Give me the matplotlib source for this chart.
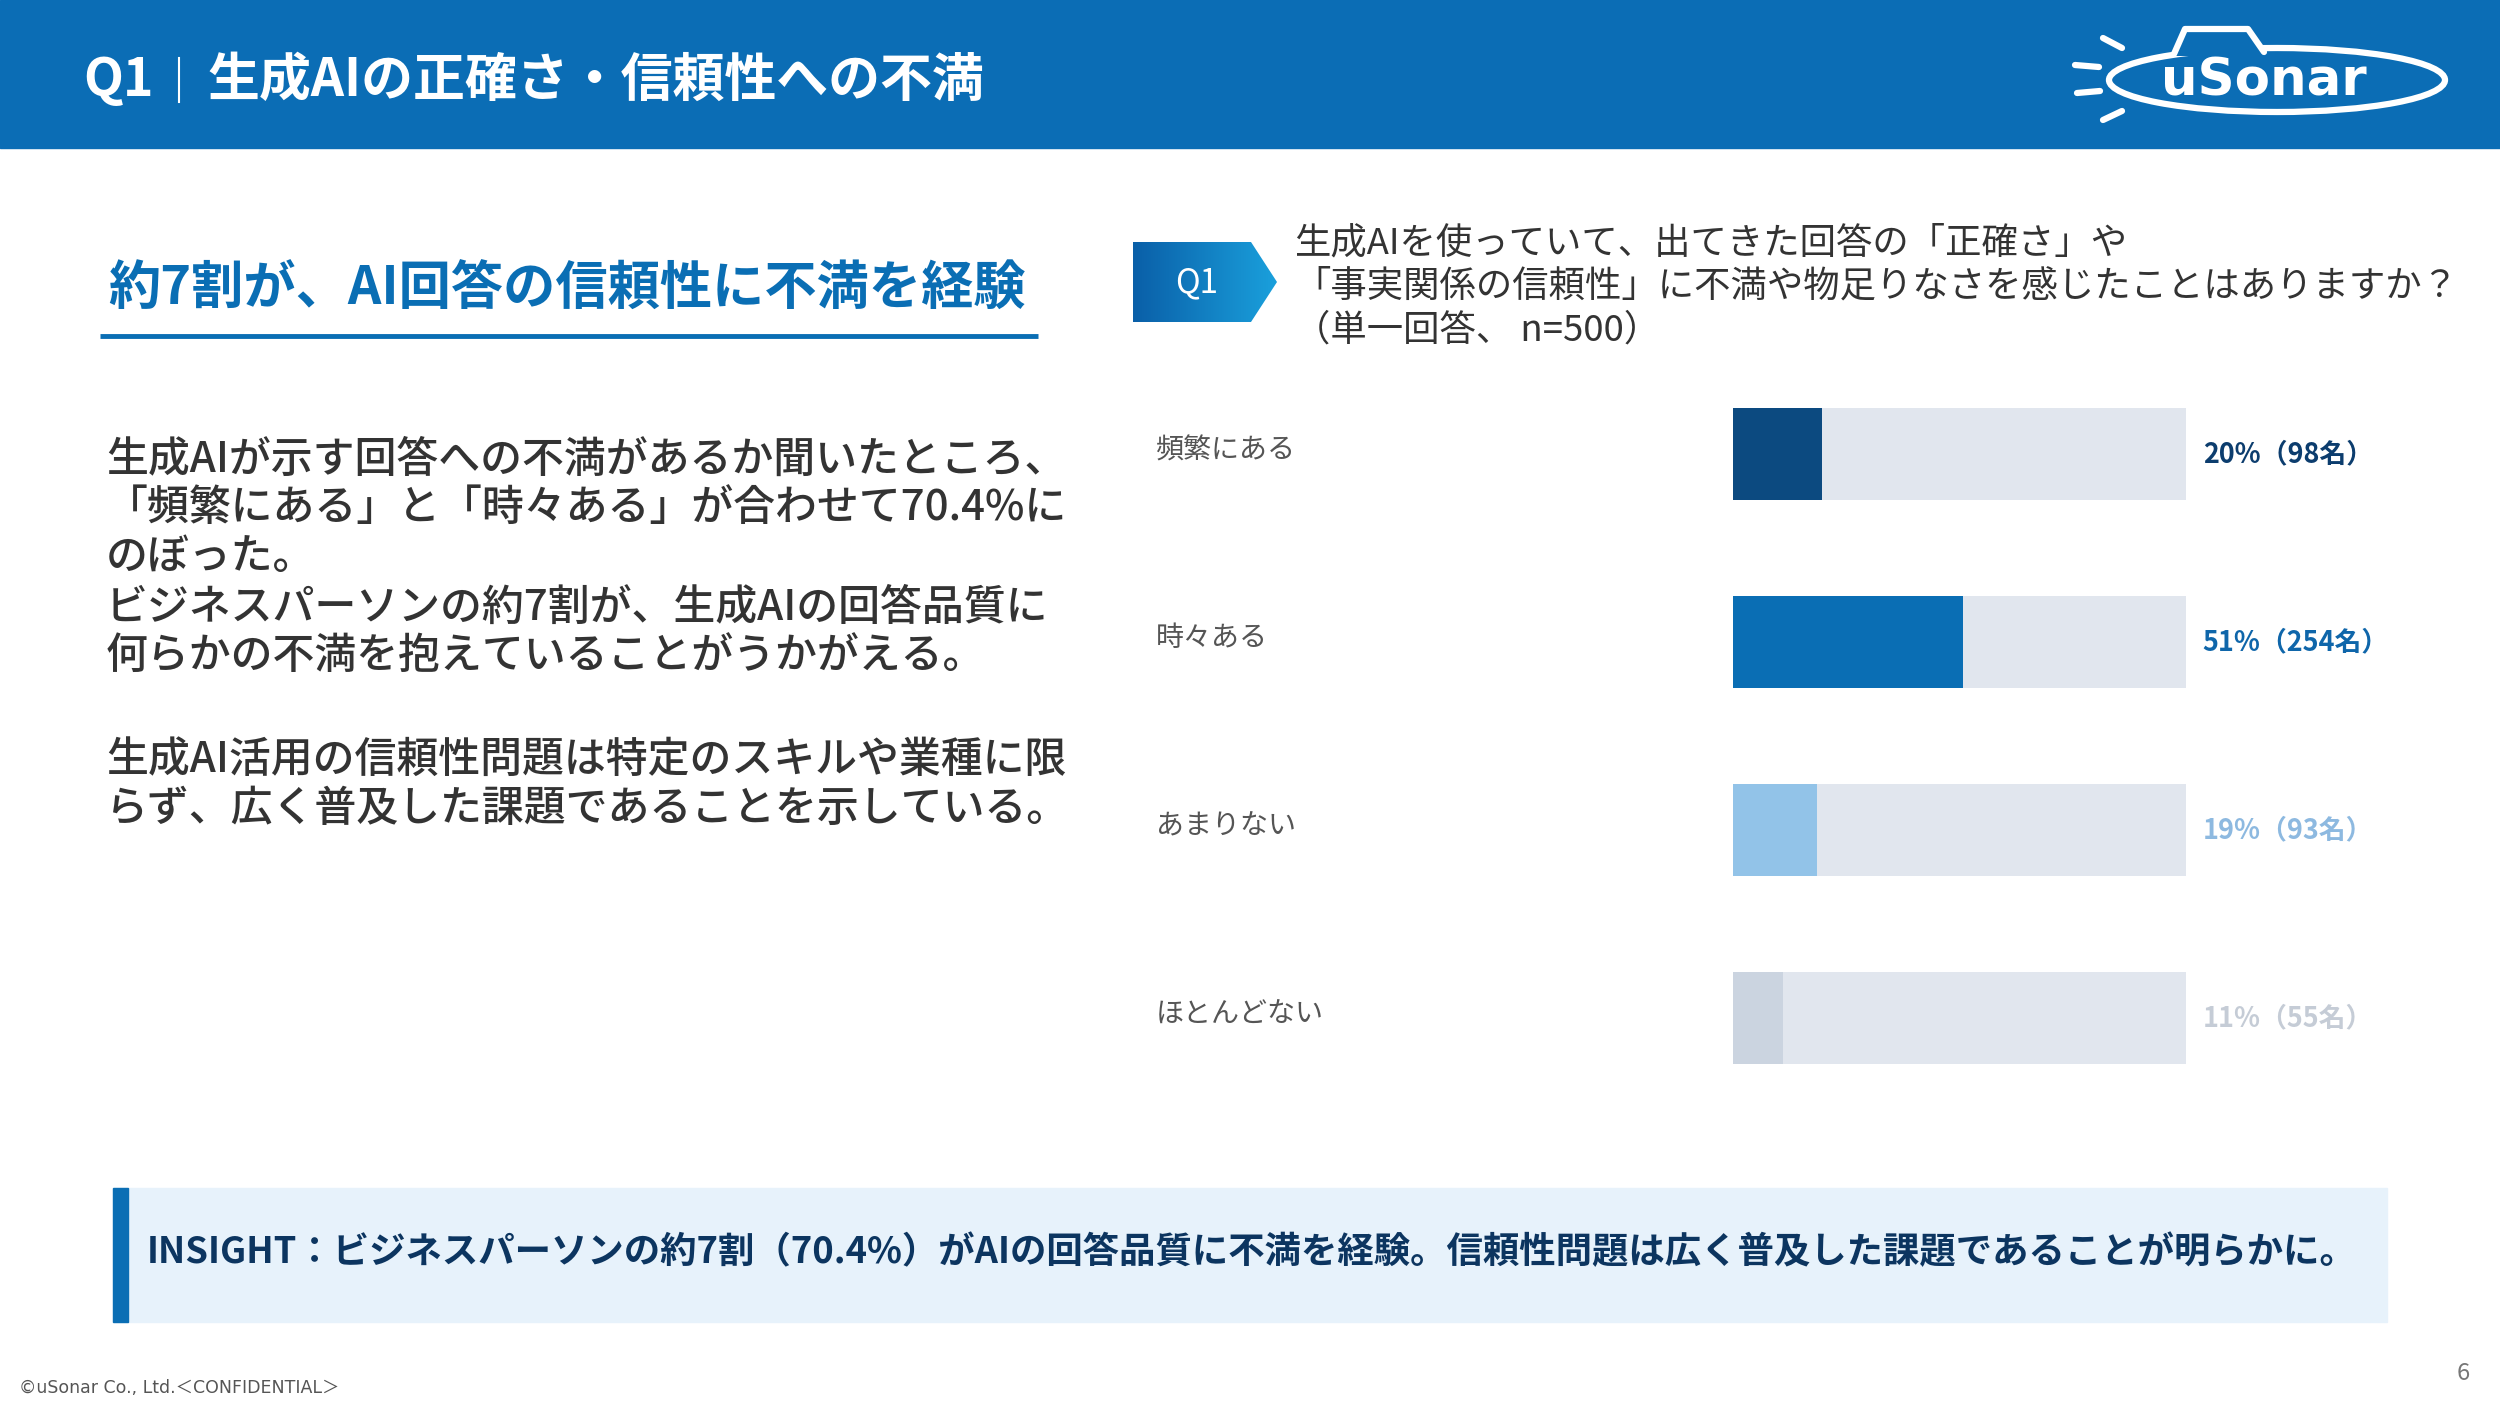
import matplotlib
matplotlib.use('Agg')
import matplotlib.pyplot as plt
from matplotlib.patches import Rectangle, Polygon, Ellipse
from matplotlib.transforms import blended_transform_factory
from matplotlib.colors import LinearSegmentedColormap
import numpy as np

plt.rcParams['font.family'] = ['Noto Sans CJK JP', 'DejaVu Sans']

# ---------------- data ----------------
categories = ['頻繁にある', '時々ある', 'あまりない', 'ほとんどない']
percents = [19.6, 50.8, 18.6, 11.0]
pct_labels = ['20%', '51%', '19%', '11%']
counts = [98, 254, 93, 55]

header_title = '生成AIの正確さ・信頼性への不満'
left_title = '約7割が、AI回答の信頼性に不満を経験'
body_lines = [
    '生成AIが示す回答への不満があるか聞いたところ、',
    '「頻繁にある」と「時々ある」が合わせて70.4%に',
    'のぼった。',
    'ビジネスパーソンの約7割が、生成AIの回答品質に',
    '何らかの不満を抱えていることがうかがえる。',
    '',
    '生成AI活用の信頼性問題は特定のスキルや業種に限',
    'らず、広く普及した課題であることを示している。',
]
question_lines = [
    '生成AIを使っていて、出てきた回答の「正確さ」や',
    '「事実関係の信頼性」に不満や物足りなさを感じたことはありますか？',
    '（単一回答、 n=500）',
]
insight_text = 'INSIGHT：ビジネスパーソンの約7割（70.4%）がAIの回答品質に不満を経験。信頼性問題は広く普及した課題であることが明らかに。'
footer_text = '©uSonar Co., Ltd.＜CONFIDENTIAL＞'
page_no = '6'

# ---------------- styles ----------------
W, H = 2500, 1406
BLUE = '#0B6DB5'
bar_colors = ['#0C4A80', '#0A6EB4', '#92C3E8', '#CBD4E0']
label_colors = ['#0C3D6E', '#0F66AA', '#8DB9E0', '#C5CCD6']
track_color = '#E1E6EE'

fig = plt.figure(figsize=(W / 100, H / 100), dpi=100)
fig.patch.set_facecolor('white')

ax0 = fig.add_axes([0, 0, 1, 1])
ax0.set_xlim(0, W)
ax0.set_ylim(H, 0)
ax0.axis('off')

# header band
ax0.add_patch(Rectangle((0, 0), W, 148, color=BLUE, zorder=1))
ax0.text(83, 80, 'Q1', color='white', fontsize=37.4, fontweight='bold',
         va='center', ha='left', zorder=3)
ax0.plot([179, 179], [58, 102], color='white', lw=1.5, zorder=3)
ax0.text(207, 80, header_title, color='white', fontsize=37.4, fontweight='bold',
         va='center', ha='left', zorder=3)

# logo
ax0.add_patch(Ellipse((2277, 80), 336, 64, fill=False, ec='white', lw=4.5, zorder=3))
ax0.add_patch(Polygon([(2172, 56), (2184, 29), (2249, 29), (2266, 56)],
                      closed=True, fc=BLUE, ec='none', zorder=4))
ax0.plot([2174, 2185, 2248, 2264], [54, 29, 29, 52], color='white', lw=4.5,
         solid_joinstyle='round', solid_capstyle='round', zorder=5)
for (x1, y1, x2, y2) in [(2103, 38, 2122, 48), (2075, 65, 2099, 67),
                         (2077, 93, 2100, 91), (2103, 120, 2122, 111)]:
    ax0.plot([x1, x2], [y1, y2], color='white', lw=4.5, solid_capstyle='round', zorder=5)
ax0.text(2264, 82, 'uSonar', color='white', fontsize=37, fontweight='bold',
         family='DejaVu Sans', ha='center', va='center', zorder=5)

# left title + underline
ax0.text(108, 289, left_title, color='#0A6EB4', fontsize=37.6, fontweight='bold',
         va='center', ha='left')
ax0.plot([100, 1038], [336, 336], color='#0A6EB4', lw=3.5, solid_capstyle='butt')

# body text
body_y = [459, 507, 556, 607, 655, 707, 759, 808]
for y, line in zip(body_y, body_lines):
    if line:
        ax0.text(106, y, line, color='#333333', fontsize=30.2, fontweight='medium',
                 va='center', ha='left')

# Q1 badge with gradient
badge = Polygon([(1133, 242), (1251, 242), (1277, 282), (1251, 322), (1133, 322)],
                closed=True, fc='none', ec='none')
ax0.add_patch(badge)
grad = np.linspace(0, 1, 256).reshape(1, -1)
cmap = LinearSegmentedColormap.from_list('b', ['#0A5FA8', '#1AA0DC'])
im = ax0.imshow(grad, extent=(1133, 1277, 322, 242), cmap=cmap, aspect='auto', zorder=2)
im.set_clip_path(badge)
ax0.set_xlim(0, W)
ax0.set_ylim(H, 0)
ax0.text(1197, 283, 'Q1', color='white', fontsize=24, va='center', ha='center', zorder=3)

# question
q_y = [243, 287, 331]
for y, line in zip(q_y, question_lines):
    ax0.text(1294, y, line, color='#333333', fontsize=26.2, va='center', ha='left')

# insight box
ax0.add_patch(Rectangle((113, 1188), 2274, 134, color='#E7F2FB', zorder=1))
ax0.add_patch(Rectangle((113, 1188), 15, 134, color='#0A6EB4', zorder=2))
ax0.text(147, 1253, insight_text, color='#0C3560', fontsize=26.2, fontweight='bold',
         va='center', ha='left', zorder=3)

# footer
ax0.text(19, 1388, footer_text, color='#555555', fontsize=12.5,
         family=['DejaVu Sans', 'Noto Sans CJK JP'], va='center', ha='left')
ax0.text(2463, 1374, page_no, color='#777777', fontsize=17, va='center', ha='center')

# ---------------- bar chart ----------------
x_left, x_right = 1733, 2186
y_top, y_bot = 360, 1112
ax = fig.add_axes([x_left / W, 1 - y_bot / H, (x_right - x_left) / W, (y_bot - y_top) / H])
ax.set_xlim(0, 100)
ax.set_ylim(len(categories) - 0.5, -0.5)
ax.axis('off')
ypos = np.arange(len(categories))
ax.barh(ypos, [100] * len(categories), height=0.49, color=track_color, zorder=1)
ax.barh(ypos, percents, height=0.49, color=bar_colors, zorder=2)

trans = blended_transform_factory(fig.transFigure, ax.transData)
for i, cat in enumerate(categories):
    ax.text(1156 / W, i - 0.02, cat, transform=trans, color='#555555', fontsize=20.2,
            va='center', ha='left')
    ax.annotate(f'{pct_labels[i]}（{counts[i]}名）', xy=(100, i), xytext=(12, 0),
                textcoords='offset points', color=label_colors[i], fontsize=19.4,
                fontweight='bold', va='center', ha='left')

fig.savefig('out.png', dpi=100, facecolor='white')
